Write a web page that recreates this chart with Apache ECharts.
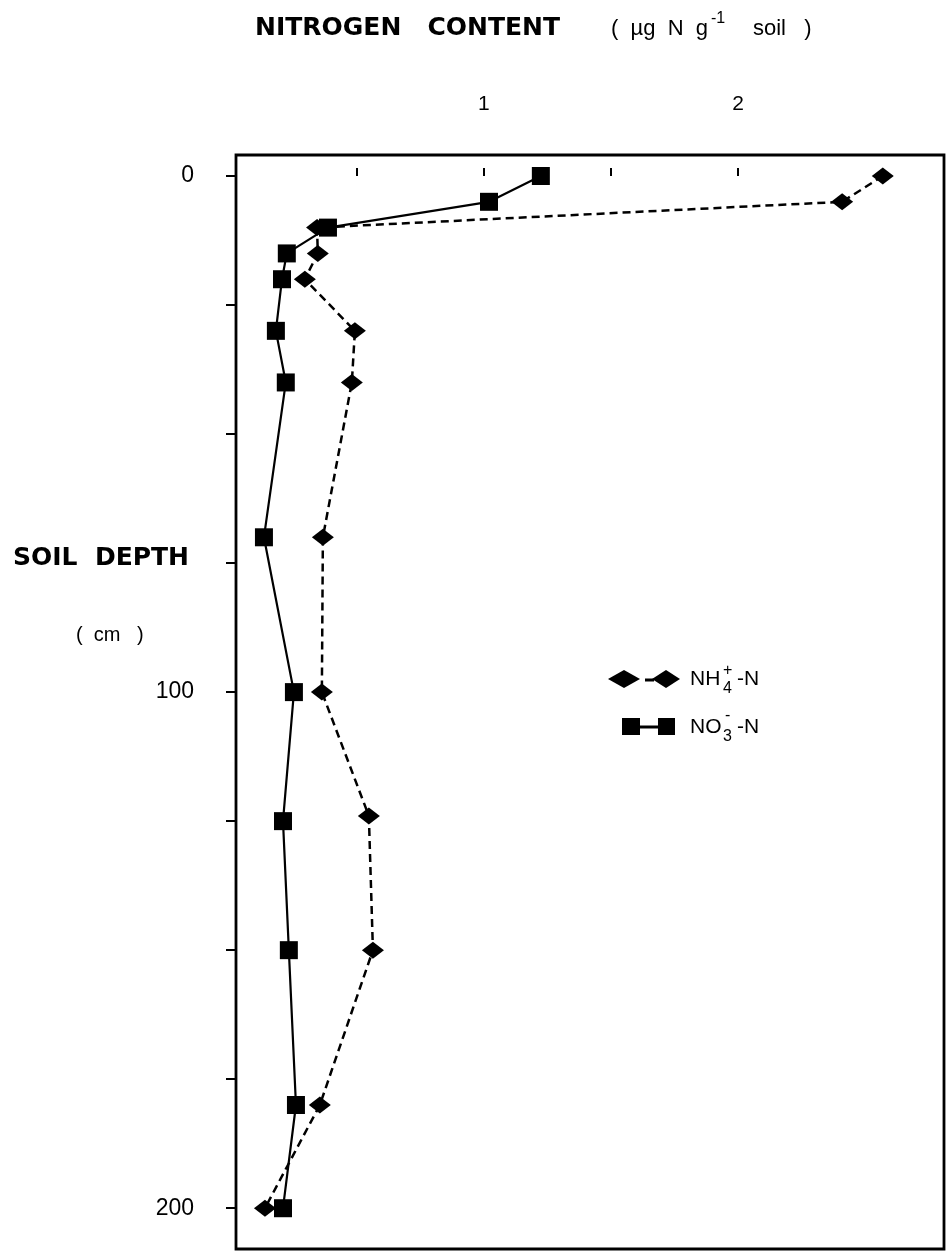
<!DOCTYPE html>
<html>
<head>
<meta charset="utf-8">
<title>Soil nitrogen profile</title>
<script src="https://cdn.jsdelivr.net/npm/echarts@6/dist/echarts.min.js"></script>
<style>
  html, body { margin: 0; padding: 0; background: #fff; }
  #chart { width: 947px; height: 1251px; }
</style>
</head>
<body>
<div id="chart"></div>
<script>
// Soil depth (cm) of each sample
const depthNH4 = [0, 5, 10, 15, 20, 30, 40, 70, 100, 124, 150, 180, 200];
const depthNO3 = [0, 5, 10, 15, 20, 30, 40, 70, 100, 125, 150, 180, 200];
// Nitrogen content (µg N per g soil)
const nh4 = [2.57, 2.41, 0.343, 0.346, 0.295, 0.492, 0.48, 0.366, 0.362, 0.547, 0.563, 0.354, 0.138];
const no3 = [1.224, 1.02, 0.386, 0.224, 0.205, 0.181, 0.22, 0.134, 0.252, 0.209, 0.232, 0.26, 0.209];
// Axis ticks and labels
const xTicks = [0.5, 1, 1.5, 2];
const xLabels = [1, 2];
const yTicks = [0, 25, 50, 75, 100, 125, 150, 175, 200];
const yLabels = [0, 100, 200];

const FONT = 'Liberation Sans, Arial, sans-serif';
const BOLD = 'DejaVu Sans, Liberation Sans, sans-serif';

const pairs = (xs, ys) => xs.map((v, i) => [v, ys[i]]);

const chart = echarts.init(document.getElementById('chart'), null, { renderer: 'canvas' });

const option = {
  animation: false,
  backgroundColor: '#fff',
  grid: {
    left: 236, right: 3, top: 155, bottom: 2,
    show: true, borderColor: '#000', borderWidth: 2.8, backgroundColor: 'transparent'
  },
  xAxis: {
    type: 'value', position: 'top', min: 0.024, max: 2.811,
    axisLine: { show: false },
    splitLine: { show: false },
    axisTick: { show: true, inside: false, length: 8, customValues: xTicks,
      lineStyle: { color: '#000', width: 2 } },
    axisLabel: { customValues: xLabels, margin: 40, fontSize: 21, color: '#000', fontFamily: FONT }
  },
  yAxis: {
    type: 'value', inverse: true, min: -4.07, max: 207.9,
    axisLine: { show: false },
    splitLine: { show: false },
    axisTick: { show: true, inside: false, length: 10, customValues: yTicks,
      lineStyle: { color: '#000', width: 2 } },
    axisLabel: { customValues: yLabels, margin: 42, fontSize: 23, color: '#000', fontFamily: FONT }
  },
  series: [
    {
      name: 'NH4+-N', type: 'line', z: 2,
      data: pairs(nh4, depthNH4),
      symbol: 'diamond', symbolSize: [22, 17],
      itemStyle: { color: '#000' },
      lineStyle: { color: '#000', width: 2.5, type: [8, 5] }
    },
    {
      name: 'NO3--N', type: 'line', z: 3,
      data: pairs(no3, depthNO3),
      symbol: 'rect', symbolSize: [18, 18],
      itemStyle: { color: '#000' },
      lineStyle: { color: '#000', width: 2.2, type: 'solid' }
    }
  ],
  graphic: [
    // axis titles
    { type: 'text', left: 255, top: 16, style: { text: 'NITROGEN   CONTENT', font: 'bold 25px ' + BOLD, fill: '#000' } },
    { type: 'text', left: 611, top: 18, style: { text: '(  µg  N  g', font: '22px ' + FONT, fill: '#000' } },
    { type: 'text', left: 711, top: 11, style: { text: '-1', font: '16px ' + FONT, fill: '#000' } },
    { type: 'text', left: 753, top: 18, style: { text: 'soil   )', font: '22px ' + FONT, fill: '#000' } },
    { type: 'text', left: 13, top: 546, style: { text: 'SOIL  DEPTH', font: 'bold 25px ' + BOLD, fill: '#000' } },
    { type: 'text', left: 76, top: 625, style: { text: '(  cm   )', font: '20px ' + FONT, fill: '#000' } },
    // legend: ammonium
    { type: 'polygon', shape: { points: [[608, 679], [624, 670], [640, 679], [624, 688]] }, style: { fill: '#000' } },
    { type: 'line', shape: { x1: 645, y1: 680, x2: 654, y2: 680 }, style: { stroke: '#000', lineWidth: 3 } },
    { type: 'polygon', shape: { points: [[652, 679], [666, 670], [680, 679], [666, 688]] }, style: { fill: '#000' } },
    { type: 'text', left: 690, top: 669, style: { text: 'NH', font: '21px ' + FONT, fill: '#000' } },
    { type: 'text', left: 723, top: 663, style: { text: '+', font: '16px ' + FONT, fill: '#000' } },
    { type: 'text', left: 723, top: 681, style: { text: '4', font: '16px ' + FONT, fill: '#000' } },
    { type: 'text', left: 737, top: 669, style: { text: '-N', font: '21px ' + FONT, fill: '#000' } },
    // legend: nitrate
    { type: 'rect', shape: { x: 622, y: 718, width: 18, height: 17 }, style: { fill: '#000' } },
    { type: 'line', shape: { x1: 640, y1: 727, x2: 658, y2: 727 }, style: { stroke: '#000', lineWidth: 3 } },
    { type: 'rect', shape: { x: 658, y: 718, width: 17, height: 17 }, style: { fill: '#000' } },
    { type: 'text', left: 690, top: 717, style: { text: 'NO', font: '21px ' + FONT, fill: '#000' } },
    { type: 'text', left: 725, top: 708, style: { text: '-', font: '16px ' + FONT, fill: '#000' } },
    { type: 'text', left: 723, top: 729, style: { text: '3', font: '16px ' + FONT, fill: '#000' } },
    { type: 'text', left: 737, top: 717, style: { text: '-N', font: '21px ' + FONT, fill: '#000' } }
  ]
};

chart.setOption(option);
</script>
</body>
</html>
